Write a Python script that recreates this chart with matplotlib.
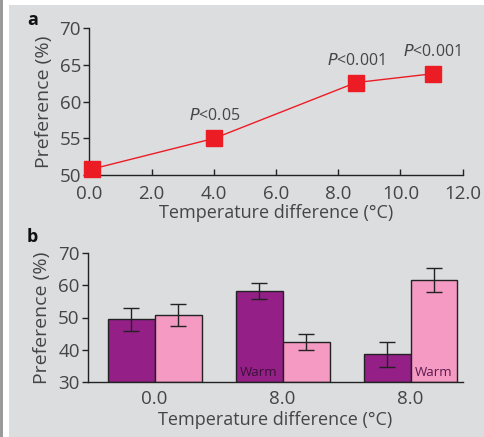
"""
Recreation of a two-panel temperature preference figure (a: line, b: bars).
"""

import matplotlib
matplotlib.use("Agg")
import matplotlib.pyplot as plt
import numpy as np
from matplotlib.patches import Rectangle

# panel a
temp_diff = [0.08, 4.02, 8.57, 11.03]
pref_a = [50.8, 55.0, 62.6, 63.8]
p_labels = ["", "<0.05", "<0.001", "<0.001"]

# panel b
groups = ["0.0", "8.0", "8.0"]
pref_dark = [49.5, 58.2, 38.5]
err_dark = [3.6, 2.5, 3.8]
pref_light = [50.8, 42.4, 61.7]
err_light = [3.5, 2.5, 3.7]
warm_dark = [False, True, False]
warm_light = [False, False, True]

W, H = 484, 437
BG = "#dcdddf"
TXT = "#454545"
RED = "#ec1c24"
PURPLE = "#941f86"
PINK = "#f59ac2"

plt.rcParams["font.family"] = ["Open Sans", "DejaVu Sans"]
plt.rcParams["font.size"] = 11

fig = plt.figure(figsize=(W / 100, H / 100), dpi=100)
fig.patch.set_facecolor("white")
fig.add_artist(Rectangle((9 / W, 0), 1, 1 - 5 / H, transform=fig.transFigure,
                         facecolor=BG, edgecolor="none", zorder=-10))
fig.add_artist(Rectangle((0, 0), 3 / W, 1, transform=fig.transFigure,
                         facecolor="#9a9a9a", edgecolor="none", zorder=-10))


def style(ax):
    ax.set_facecolor("none")
    for s in ("top", "right"):
        ax.spines[s].set_visible(False)
    for s in ("left", "bottom"):
        ax.spines[s].set_color("#222222")
        ax.spines[s].set_linewidth(1.0)
    ax.tick_params(colors="#222222", labelcolor=TXT, labelsize=13.5, width=1.0)


# ---- panel a ----
ax1 = fig.add_axes([89.3 / W, 1 - 175 / H, (462.7 - 89.3) / W, (175 - 28.3) / H])
style(ax1)
ax1.plot(temp_diff, pref_a, color=RED, lw=1.0, marker="s", ms=11.5,
         mec=RED, mfc=RED, clip_on=False, zorder=3)
ax1.set_xlim(0, 12)
ax1.set_ylim(50, 70)
ax1.set_xticks(np.arange(0, 12.1, 2))
ax1.set_xticklabels([f"{v:.1f}" for v in np.arange(0, 12.1, 2)])
ax1.set_yticks([50, 55, 60, 65, 70])
ax1.tick_params(axis="x", direction="in", length=4, pad=7)
ax1.tick_params(axis="y", direction="out", length=4, pad=2)
for x, y, lab in zip(temp_diff, pref_a, p_labels):
    if lab:
        ax1.annotate(r"$\it{P}$" + lab, (x, y), xytext=(0, 10),
                     textcoords="offset points", ha="center", va="bottom",
                     fontsize=11.5, color=TXT)
ax1.set_xlabel("Temperature difference (°C)", color=TXT, fontsize=13, labelpad=1)
ax1.set_ylabel("Preference (%)", color=TXT, fontsize=14, labelpad=5)
fig.text(27 / W, 1 - 20 / H, "a", fontsize=13, fontweight="bold", color="#111111",
         ha="left", va="center")

# ---- panel b ----
ax2 = fig.add_axes([88 / W, 1 - 381.7 / H, (463 - 88) / W, (381.7 - 253.3) / H])
style(ax2)
x = np.arange(len(groups))
bw = 0.367
ax2.bar(x - bw / 2, [v - 30 for v in pref_dark], bw, bottom=30, color=PURPLE,
        edgecolor="#222222", lw=1.0, zorder=2)
ax2.bar(x + bw / 2, [v - 30 for v in pref_light], bw, bottom=30, color=PINK,
        edgecolor="#222222", lw=1.0, zorder=2)
ax2.errorbar(x - bw / 2, pref_dark, yerr=err_dark, fmt="none", ecolor="#222222",
             elinewidth=1.0, capsize=6, capthick=1.0, zorder=3)
ax2.errorbar(x + bw / 2, pref_light, yerr=err_light, fmt="none", ecolor="#222222",
             elinewidth=1.0, capsize=6, capthick=1.0, zorder=3)
for xi, flag in zip(x - bw / 2, warm_dark):
    if flag:
        ax2.text(xi, 33, "Warm", ha="center", va="center", fontsize=9.5, color="#3a1238")
for xi, flag in zip(x + bw / 2, warm_light):
    if flag:
        ax2.text(xi, 33, "Warm", ha="center", va="center", fontsize=9.5, color="#5a1a50")
ax2.set_xlim(-0.52, 2.41)
ax2.set_ylim(30, 70)
ax2.set_yticks([30, 40, 50, 60, 70])
ax2.set_xticks(x)
ax2.set_xticklabels(groups)
ax2.tick_params(axis="x", length=0, pad=6)
ax2.tick_params(axis="y", direction="out", length=4, pad=2)
ax2.set_xlabel("Temperature difference (°C)", color=TXT, fontsize=13, labelpad=2)
ax2.set_ylabel("Preference (%)", color=TXT, fontsize=14, labelpad=5)
fig.text(27 / W, 1 - 237 / H, "b", fontsize=13, fontweight="bold", color="#111111",
         ha="left", va="center")

fig.savefig("out.png", dpi=100, facecolor=fig.get_facecolor())
